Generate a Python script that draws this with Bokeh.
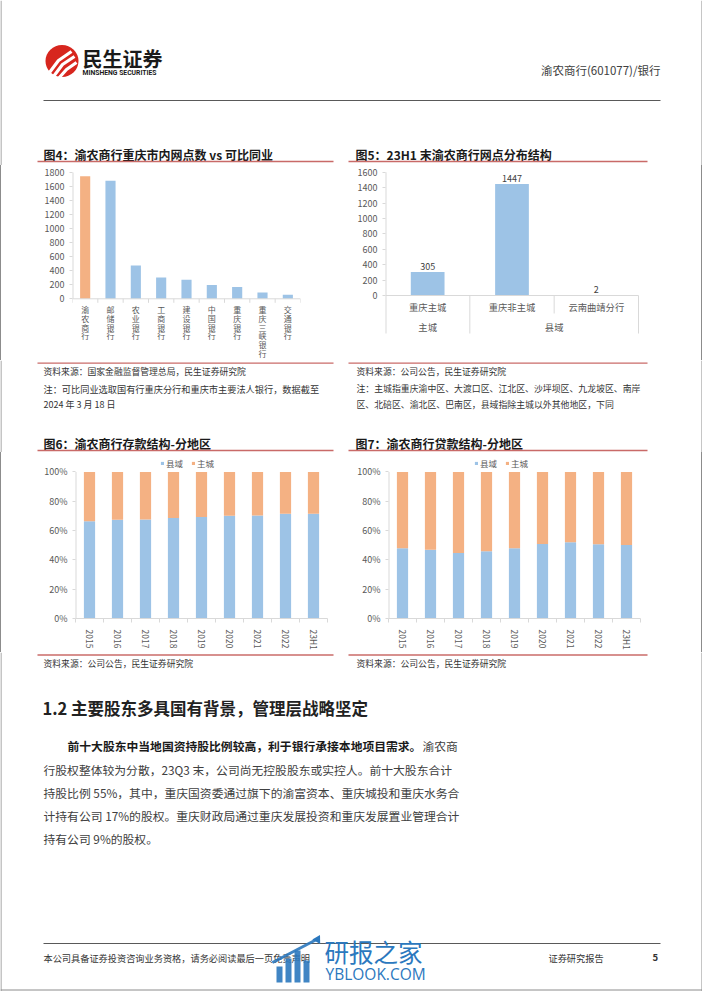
from bokeh.plotting import figure
from bokeh.layouts import column, row
from bokeh.models import (Range1d, FixedTicker, PrintfTickFormatter, Legend, LegendItem,
                          ColumnDataSource, Spacer)
from bokeh.core.properties import value
from bokeh.embed import file_html
from bokeh.resources import INLINE

# ---------------- data ----------------
fig4_banks = ["渝农商行", "邮储银行", "农业银行", "工商银行", "建设银行",
              "中国银行", "重庆银行", "重庆三峡银行", "交通银行"]
fig4_outlets = [1748, 1681, 476, 305, 271, 195, 167, 90, 57]
fig4_yticks = [0, 200, 400, 600, 800, 1000, 1200, 1400, 1600, 1800]

fig5_branches = ["重庆主城", "重庆非主城", "云南曲靖分行"]
fig5_groups = ["主城", "县域", "县域"]
fig5_outlets = [305, 1447, 2]
fig5_yticks = [0, 200, 400, 600, 800, 1000, 1200, 1400, 1600]

periods = ["2015", "2016", "2017", "2018", "2019", "2020", "2021", "2022", "23H1"]
fig6_county = [66.3, 67.4, 67.5, 68.5, 69.2, 70.1, 70.3, 71.5, 71.5]
fig6_main = [33.7, 32.6, 32.5, 31.5, 30.8, 29.9, 29.7, 28.5, 28.5]
fig7_county = [48.0, 46.9, 44.6, 45.8, 48.0, 50.9, 52.0, 50.7, 50.2]
fig7_main = [52.0, 53.1, 55.4, 54.2, 52.0, 49.1, 48.0, 49.3, 49.8]
pct_ticks = [0, 20, 40, 60, 80, 100]
legend_labels = ["县域", "主城"]

# ---------------- styles ----------------
FONT = "Noto Sans CJK SC"
BLUE = "#9DC3E6"
ORANGE = "#F4B183"
RED = "#C0504D"
AX = "#D9D9D9"
LBL = "#595959"
EDGE = "#8C8C8C"
PAGE_W, PAGE_H = 702, 991


def lin(page, pa, va, pb, vb):
    """data value at page pixel `page`, given two (page pixel, value) pairs"""
    return va + (page - pa) * (vb - va) / (pb - pa)


def band(top, h):
    p = figure(width=PAGE_W, height=h,
               x_range=Range1d(0, PAGE_W), y_range=Range1d(top + h, top),
               x_axis_type=None, y_axis_type=None,
               output_backend="svg", toolbar_location=None,
               min_border=0, outline_line_color=None)
    p.segment(x0=[0.5, PAGE_W - 0.5], y0=[top, top], x1=[0.5, PAGE_W - 0.5],
              y1=[top + h, top + h], line_color=EDGE, line_width=1)
    return p


def txt(p, x, y, s, size, color="#333333", bold=False, align="left",
        baseline="middle", font=FONT):
    p.text(x=[x], y=[y], text=[s], text_font=value(font),
           text_font_size=f"{size}px", text_color=color,
           text_font_style="bold" if bold else "normal",
           text_align=align, text_baseline=baseline)


def hline(p, x0, x1, y, color=RED, width=1.3, alpha=0.85):
    p.segment(x0=[x0], y0=[y], x1=[x1], y1=[y], line_color=color,
              line_width=width, line_alpha=alpha)


def chart_fig(w, h, xr, yr, bl, br, bt, bb, xaxis=True):
    p = figure(width=w, height=h, x_range=xr, y_range=yr,
               x_axis_location="below" if xaxis else None,
               output_backend="svg", toolbar_location=None,
               min_border_left=bl, min_border_right=br,
               min_border_top=bt, min_border_bottom=bb,
               outline_line_color=None)
    p.xgrid.visible = False
    p.ygrid.visible = False
    return p


def style_y(ax, ticks):
    ax.ticker = FixedTicker(ticks=ticks, minor_ticks=[])
    ax.axis_line_color = None
    ax.major_tick_line_color = AX
    ax.major_tick_out = 3
    ax.major_tick_in = 0
    ax.minor_tick_line_color = None
    ax.major_label_text_font = FONT
    ax.major_label_text_font_size = "9px"
    ax.major_label_text_color = LBL
    ax.major_label_standoff = 5


def edge_strip(h):
    return Spacer(width=1, height=h, styles={"background-color": EDGE})


# ---------------- band A : header + titles of fig 4/5 ----------------
A_TOP, A_H = 0, 165
pa = band(A_TOP, A_H)
pa.ellipse(x=[61.5], y=[60.5], width=33, height=32, fill_color="#D7261E", line_color=None)
pa.multi_line(xs=[[49, 58, 71], [53, 62, 74], [58, 66, 76]],
              ys=[[72, 60, 51], [76, 64, 56], [78, 69, 62]],
              line_color="white", line_width=3.2)
txt(pa, 82, 57.5, "民生证券", 20, color="#1a1a1a", bold=True)
txt(pa, 82, 72.5, "MINSHENG SECURITIES", 6.8, color="#1a1a1a", bold=True, font="Roboto")
txt(pa, 660, 69, "渝农商行(601077)/银行", 11.5, color="#404040", align="right")
hline(pa, 43, 660, 100, color="#595959", width=1, alpha=1)
txt(pa, 43, 154, "图4：渝农商行重庆市内网点数 vs 可比同业", 12, color="#1a1a1a", bold=True)
txt(pa, 355, 154, "图5：23H1 末渝农商行网点分布结构", 12, color="#1a1a1a", bold=True)
hline(pa, 37, 333, 161)
hline(pa, 348, 647, 161)

# ---------------- band B : fig 4 and fig 5 ----------------
B_TOP, B_H = 165, 195
FR_TOP, FR_BOT = 167, 358          # common frame top / bottom (page px) of fig 4 and 5

# fig 4 : value 0 at page 298.3, 1800 at page 172
n4 = len(fig4_banks)
y4 = lambda pg: lin(pg, 298.3, 0, 172, 1800)
p4 = chart_fig(344, B_H, Range1d(0.5, n4 + 0.5), Range1d(y4(FR_BOT), y4(FR_TOP)),
               71, 45, FR_TOP - B_TOP, B_TOP + B_H - FR_BOT, xaxis=False)
colors4 = [ORANGE if b == fig4_banks[0] else BLUE for b in fig4_banks]
x4 = list(range(1, n4 + 1))
src4 = ColumnDataSource(dict(x=x4, top=fig4_outlets, color=colors4,
                             lab=["\n".join(b) for b in fig4_banks]))
p4.vbar(x="x", top="top", width=0.4, fill_color="color", line_color=None, source=src4)
style_y(p4.yaxis[0], fig4_yticks)
p4.segment(x0=[0.5], y0=[0], x1=[0.5], y1=[fig4_yticks[-1]], line_color=AX, line_width=2)
p4.segment(x0=[0.5], y0=[0], x1=[n4 + 0.5], y1=[0], line_color=AX, line_width=1)
edges4 = [i + 0.5 for i in range(n4 + 1)]
p4.segment(x0=edges4, y0=[0] * len(edges4), x1=edges4, y1=[y4(302.3)] * len(edges4),
           line_color=AX, line_width=1)
p4.text(x="x", y=y4(303.5), text="lab", source=src4, text_align="center",
        text_baseline="top", text_line_height=0.8, text_font=value(FONT),
        text_font_size="8px", text_color=LBL)

# fig 5 : value 0 at page 295, 1600 at page 171.7 ; category table below the axis
n5 = len(fig5_branches)
y5 = lambda pg: lin(pg, 295, 0, 171.7, 1600)
p5 = chart_fig(356, B_H, Range1d(0, n5 + 0.012), Range1d(y5(FR_BOT), y5(FR_TOP)),
               40, 62, FR_TOP - B_TOP, B_TOP + B_H - FR_BOT, xaxis=False)
x5 = [i + 0.5 for i in range(n5)]
src5 = ColumnDataSource(dict(x=x5, v=fig5_outlets, cat=fig5_branches,
                             lab=[str(v) for v in fig5_outlets]))
p5.vbar(x="x", top="v", width=0.4, fill_color=BLUE, line_color=None, source=src5)
style_y(p5.yaxis[0], fig5_yticks)
TABLE_BOT = y5(333)
p5.segment(x0=[0], y0=[fig5_yticks[-1]], x1=[0], y1=[TABLE_BOT], line_color=AX, line_width=2)
p5.segment(x0=[0], y0=[0], x1=[n5], y1=[0], line_color=AX, line_width=1)
p5.text(x="x", y="v", text="lab", source=src5, text_align="center", text_baseline="bottom",
        y_offset=-2, text_font=value(FONT), text_font_size="9px", text_color="#404040")
p5.text(x="x", y=y5(306.7), text="cat", source=src5, text_align="center",
        text_baseline="middle", text_font=value(FONT), text_font_size="9.3px", text_color=LBL)
gx, gl = [], []
start = 0
for i in range(1, n5 + 1):
    if i == n5 or fig5_groups[i] != fig5_groups[i - 1]:
        gx.append((start + i) / 2)
        gl.append(fig5_groups[i - 1])
        start = i
p5.text(x=gx, y=[y5(326.7)] * len(gx), text=gl, text_align="center", text_baseline="middle",
        text_font=value(FONT), text_font_size="9.3px", text_color=LBL)
sx, sy1 = [], []
for i in range(1, n5 + 1):
    long_sep = (i == n5) or fig5_groups[i] != fig5_groups[i - 1]
    sx.append(i)
    sy1.append(TABLE_BOT if long_sep else y5(313))
p5.segment(x0=sx, y0=[0] * len(sx), x1=sx, y1=sy1, line_color=AX, line_width=1)

# ---------------- band C : sources / notes, titles of fig 6/7 ----------------
C_TOP, C_H = 360, 92
pc = band(C_TOP, C_H)
hline(pc, 37, 333, 362.7)
hline(pc, 348, 647, 362.7)
txt(pc, 43, 371, "资料来源：国家金融监督管理总局，民生证券研究院", 8.8)
txt(pc, 43, 388, "注：可比同业选取国有行重庆分行和重庆市主要法人银行，数据截至", 9.2)
txt(pc, 43, 403.5, "2024 年 3 月 18 日", 9)
txt(pc, 356, 371, "资料来源：公司公告，民生证券研究院", 8.8)
txt(pc, 356, 388, "注：主城指重庆渝中区、大渡口区、江北区、沙坪坝区、九龙坡区、南岸", 8.9)
txt(pc, 356, 403.5, "区、北碚区、渝北区、巴南区，县域指除主城以外其他地区，下同", 8.9)
txt(pc, 43, 442.5, "图6：渝农商行存款结构-分地区", 12, color="#1a1a1a", bold=True)
txt(pc, 355, 442.5, "图7：渝农商行贷款结构-分地区", 12, color="#1a1a1a", bold=True)
hline(pc, 37, 333, 450)
hline(pc, 348, 647, 450)

# ---------------- band D : fig 6 and fig 7 ----------------
D_TOP, D_H = 452, 200
D_FR_TOP, D_FR_BOT = 455, 621
y6 = lambda pg: lin(pg, 621, 0, 471.7, 100)


def stacked(w, bl, br, county, main, legend_x):
    n = len(periods)
    p = chart_fig(w, D_H, Range1d(0.5, n + 0.5), Range1d(0, y6(D_FR_TOP)), bl, br,
                  D_FR_TOP - D_TOP, D_TOP + D_H - D_FR_BOT)
    src = ColumnDataSource(dict(x=list(range(1, n + 1)), county=county, main=main))
    rs = p.vbar_stack(["county", "main"], x="x", width=0.4, fill_color=[BLUE, ORANGE],
                      line_color=None, source=src)
    style_y(p.yaxis[0], pct_ticks)
    p.yaxis[0].formatter = PrintfTickFormatter(format="%d%%")
    p.segment(x0=[0.5], y0=[0], x1=[0.5], y1=[pct_ticks[-1]], line_color=AX, line_width=2)
    ax = p.xaxis[0]
    centers = list(range(1, n + 1))
    ax.ticker = FixedTicker(ticks=centers, minor_ticks=[i + 0.5 for i in range(n + 1)])
    ax.major_label_overrides = {c: lab for c, lab in zip(centers, periods)}
    ax.axis_line_color = AX
    ax.major_tick_line_color = None
    ax.minor_tick_line_color = AX
    ax.minor_tick_out = 4
    ax.minor_tick_in = 0
    ax.major_label_text_font = FONT
    ax.major_label_text_font_size = "8.5px"
    ax.major_label_text_color = LBL
    ax.major_label_standoff = 5
    ax.major_label_orientation = "vertical"
    leg = Legend(items=[LegendItem(label=legend_labels[0], renderers=[rs[0]]),
                        LegendItem(label=legend_labels[1], renderers=[rs[1]])],
                 orientation="horizontal",
                 location=(legend_x, D_FR_BOT - 471.8),
                 label_text_font=FONT, label_text_font_size="8.5px", label_text_color=LBL,
                 glyph_width=4, glyph_height=4, label_height=10, label_standoff=2,
                 spacing=5, padding=0, margin=0, border_line_color=None,
                 background_fill_alpha=0)
    p.add_layout(leg)
    return p


p6 = stacked(344, 74, 18, fig6_county, fig6_main, 85)
p7 = stacked(356, 43, 61, fig7_county, fig7_main, 86)

# ---------------- band E : sources, text, footer ----------------
E_TOP, E_H = 652, PAGE_H - 652
pe = band(E_TOP, E_H)
hline(pe, 37, 333, 654.5)
hline(pe, 348, 647, 654.5)
txt(pe, 43, 662.5, "资料来源：公司公告，民生证券研究院", 8.8)
txt(pe, 356, 662.5, "资料来源：公司公告，民生证券研究院", 8.8)
txt(pe, 42, 707, "1.2 主要股东多具国有背景，管理层战略坚定", 16.5, color="#222222", bold=True)
BODY = 11.8
BODY_C = "#404040"
txt(pe, 67, 745, "前十大股东中当地国资持股比例较高，利于银行承接本地项目需求。", BODY,
    color="#1a1a1a", bold=True)
txt(pe, 422, 745, "渝农商", BODY, color=BODY_C)
txt(pe, 43, 768.5, "行股权整体较为分散，23Q3 末，公司尚无控股股东或实控人。前十大股东合计", BODY, color=BODY_C)
txt(pe, 43, 792, "持股比例 55%，其中，重庆国资委通过旗下的渝富资本、重庆城投和重庆水务合", BODY, color=BODY_C)
txt(pe, 43, 815, "计持有公司 17%的股权。重庆财政局通过重庆发展投资和重庆发展置业管理合计", BODY, color=BODY_C)
txt(pe, 43, 838, "持有公司 9%的股权。", BODY, color=BODY_C)
hline(pe, 43, 660, 943, color="#595959", width=1, alpha=1)
txt(pe, 43, 957, "本公司具备证券投资咨询业务资格，请务必阅读最后一页免责声明", 9.2)
txt(pe, 548, 957, "证券研究报告", 9.2)
txt(pe, 652, 957, "5", 9.5, bold=True)
hline(pe, 0, PAGE_W, 989.5, color=EDGE, width=1, alpha=1)
# watermark
WM = "#2B78BE"
pe.quad(left=[276, 285, 294, 303], right=[282, 291, 300, 309],
        top=[966, 958, 950, 960], bottom=[982, 982, 982, 982],
        fill_color=WM, line_color=None, fill_alpha=0.9)
pe.line(x=[272, 318], y=[962, 938], line_color=WM, line_width=3, line_alpha=0.9)
pe.triangle(x=[317], y=[939], size=9, angle=-0.5, fill_color=WM, line_color=None)
txt(pe, 324, 951, "研报之家", 24.5, color=WM)
txt(pe, 325, 973, "YBLOOK.COM", 15.5, color=WM, font="Open Sans")

layout = column(pa,
                row(edge_strip(B_H), p4, p5, edge_strip(B_H)),
                pc,
                row(edge_strip(D_H), p6, p7, edge_strip(D_H)),
                pe)
open("out.html", "w").write(file_html(layout, INLINE))
